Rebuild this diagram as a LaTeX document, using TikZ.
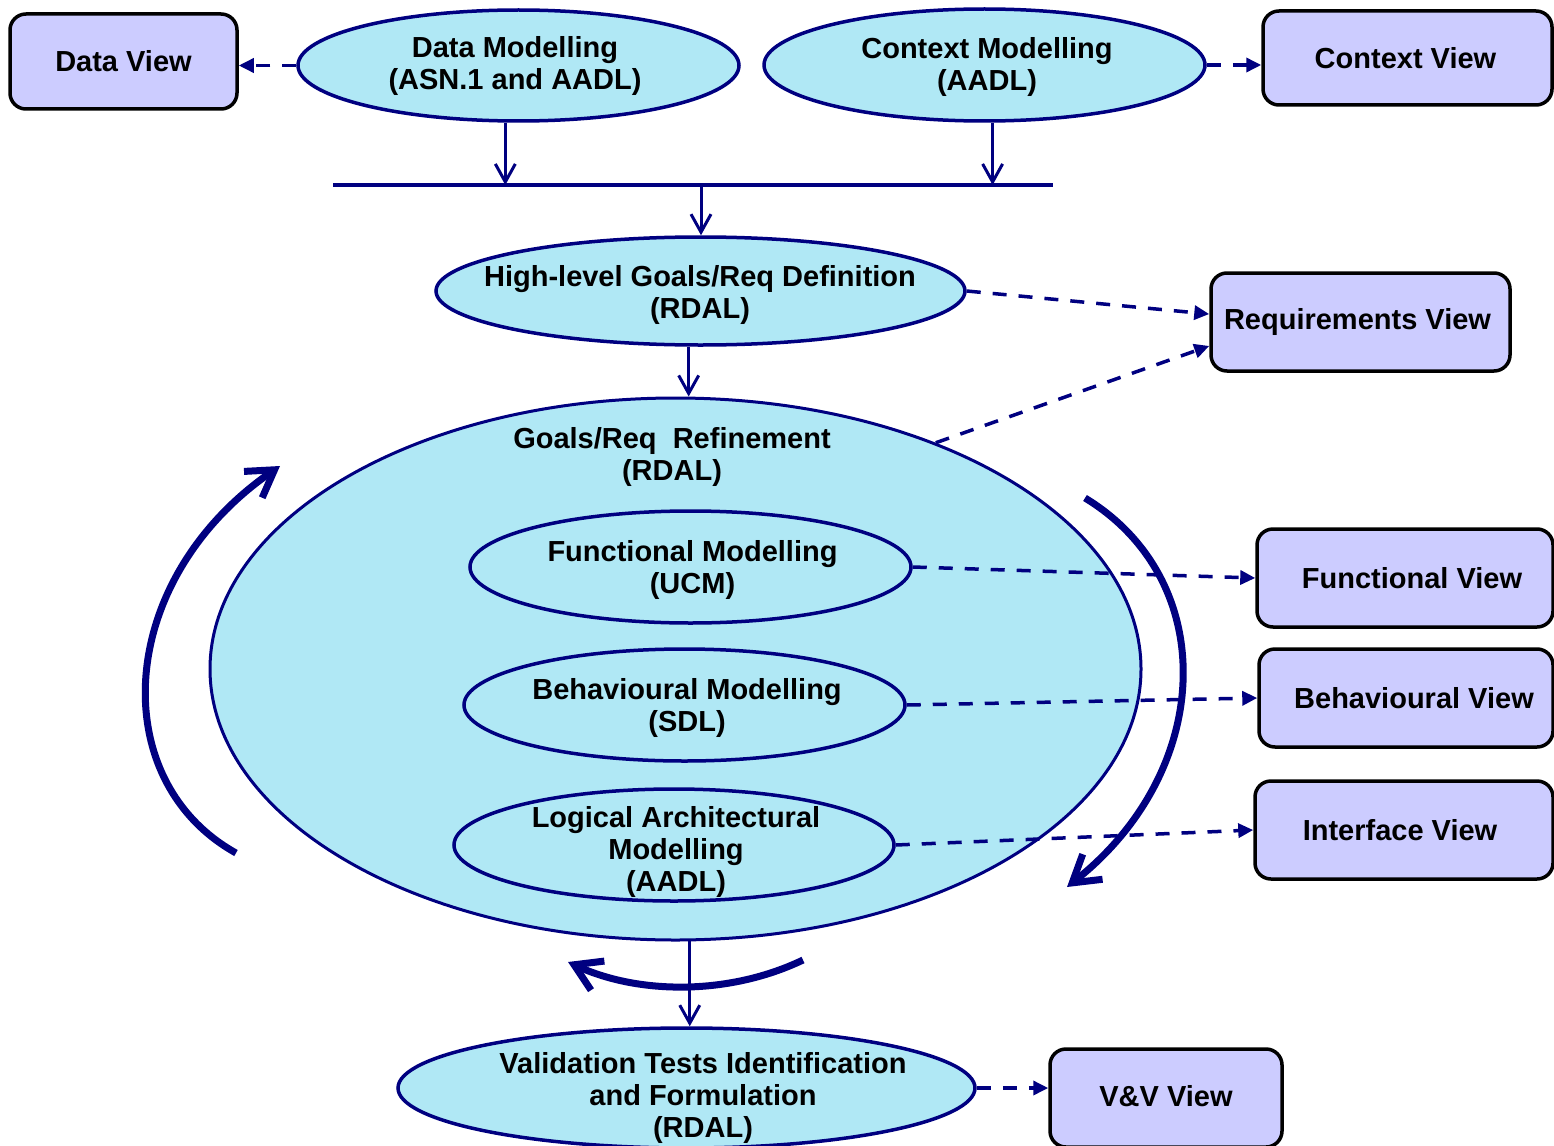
\documentclass[tikz,border=0pt]{standalone}
\usepackage{fontspec}
\setmainfont{Liberation Sans}
\usetikzlibrary{shapes.geometric,arrows.meta,calc}
\definecolor{navy}{RGB}{0,0,128}
\definecolor{procfill}{RGB}{176,232,245}
\definecolor{viewfill}{RGB}{204,204,255}

\begin{document}
\begin{tikzpicture}[x=1pt,y=-1pt,
  font=\fontsize{29}{32}\selectfont\bfseries,
  proc/.style={ellipse,draw=navy,fill=procfill,line width=3.5pt,inner sep=0pt},
  viewbox/.style={rectangle,rounded corners=16pt,draw=black,fill=viewfill,line width=3.5pt,inner sep=0pt},
  txt/.style={align=center,inner sep=0pt},
  feedarrow/.style={draw=navy,line width=3.5pt,dash pattern=on 14pt off 12pt,-{Triangle[length=15pt,width=14pt]}},
  flowarrow/.style={draw=navy,line width=3pt,-{Straight Barb[length=18pt,width=20pt]}},
  looparc/.style={draw=navy,line width=7pt,-{Straight Barb[length=26pt,width=32pt]}}]

\clip (0,0) rectangle (1554,1145);

% view boxes
\node[viewbox,minimum width=227pt,minimum height=95pt] (dv) at (123.5,61.5) {Data View};
\node[viewbox,minimum width=289pt,minimum height=94pt] (cv) at (1407.5,58) {\hspace*{-4pt}Context View};
\node[viewbox,minimum width=299pt,minimum height=98pt] (req) at (1360.5,322) {\hspace*{-6pt}Requirements View};
\node[viewbox,minimum width=296pt,minimum height=98pt] (fv) at (1405,578) {\hspace*{14pt}Functional View};
\node[viewbox,minimum width=294pt,minimum height=98pt] (bv) at (1406,698) {\hspace*{16pt}Behavioural View};
\node[viewbox,minimum width=298pt,minimum height=98pt] (iv) at (1404,830) {\hspace*{-8pt}Interface View};
\node[viewbox,minimum width=232pt,minimum height=98pt] (vv) at (1166,1098) {\raisebox{4pt}{V\&V View}};

% modelling activities
\node[proc,minimum width=441pt,minimum height=111pt] (dm) at (518.5,65.5) {};
\node[txt] (dmt) at (515,66) {Data Modelling\\(ASN.1 and AADL)};
\node[proc,minimum width=441pt,minimum height=112pt] (cm) at (984.5,65) {};
\node[txt] (cmt) at (987,67.5) {Context Modelling\\(AADL)};
\node[proc,minimum width=529pt,minimum height=108pt] (hl) at (700.5,291) {};
\node[txt] (hlt) at (700,295) {High-level Goals/Req Definition\\(RDAL)};
\node[proc,line width=3pt,minimum width=931pt,minimum height=542pt] (goals) at (675.5,669) {};
\node[txt] (goalst) at (672,456.5) {Goals/Req\ \ Refinement\\(RDAL)};
\node[proc,minimum width=441pt,minimum height=112pt] (fm) at (690.5,567) {};
\node[txt] (fmt) at (692.5,569.5) {Functional Modelling\\(UCM)};
\node[proc,minimum width=441pt,minimum height=112pt] (bm) at (684.5,705) {};
\node[txt] (bmt) at (687,707.5) {Behavioural Modelling\\(SDL)};
\node[proc,minimum width=440pt,minimum height=112pt] (la) at (674,845) {};
\node[txt] (lat) at (676,851.5) {Logical Architectural\\Modelling\\(AADL)};
\node[proc,minimum width=577pt,minimum height=120pt] (val) at (686.5,1088) {};
\node[txt] (valt) at (703,1098) {Validation Tests Identification\\and Formulation\\(RDAL)};

% merging bar
\coordinate (barL) at (333,185);
\coordinate (barR) at (1053,185);
\coordinate (barM) at (701,185);
\draw[navy,line width=3.5pt] (barL) -- (barR);

% main flow
\draw[flowarrow] (dm.257) -- (dm.257 |- barM);
\draw[flowarrow] (cm.278) -- (cm.278 |- barM);
\draw[flowarrow] (barM) -- (barM |- hl.north);
\draw[flowarrow] (hl.258.5) -- (hl.258.5 |- goals.north);
\draw[flowarrow] (goals.273.6) -- (goals.273.6 |- val.north);

% produced views
\draw[feedarrow] (dm.west) -- (dm.west -| dv.east);
\draw[feedarrow] (cm.east) -- (cm.east -| cv.west);
\draw[feedarrow] (hl.east) -- (req.177);
\draw[feedarrow] (goals.41) -- (req.189);
\draw[feedarrow] (fm.east) -- (fv.west);
\draw[feedarrow] (bm.east) -- (bv.west);
\draw[feedarrow] (la.east) -- (iv.west);
\draw[feedarrow] (val.east) -- (val.east -| vv.west);

% iteration arcs around the refinement loop
\coordinate (lA) at (236,853);
\coordinate (lB) at (280,466);
\coordinate (rA) at (1085,498);
\coordinate (rB) at (1067,887);
\coordinate (bA) at (803,960);
\coordinate (bB) at (568,962);
\draw[looparc] (lA) .. controls (105,780) and (115,580) .. (lB);
\draw[looparc] (rA) .. controls (1220,580) and (1215,770) .. (rB);
\draw[looparc] (bA) .. controls (730,995) and (640,995) .. (bB);

\end{tikzpicture}
\end{document}
